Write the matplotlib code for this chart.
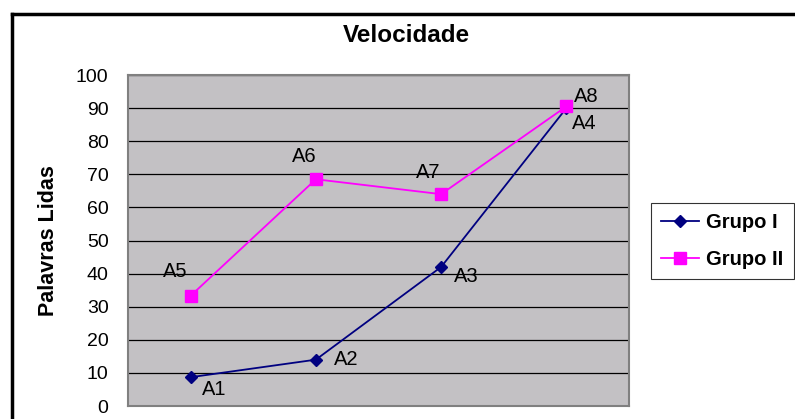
import matplotlib
matplotlib.use("Agg")
import matplotlib.pyplot as plt
from matplotlib.lines import Line2D
import numpy as np

categories = ["1", "2", "3", "4"]
grupo1 = [8.7, 14, 42, 90]
grupo2 = [33.3, 68.5, 64, 90.5]
labels1 = ["A1", "A2", "A3", "A4"]
labels2 = ["A5", "A6", "A7", "A8"]
yticks = [0, 10, 20, 30, 40, 50, 60, 70, 80, 90, 100]

W, H = 795, 419
fig = plt.figure(figsize=(W / 100, H / 100), dpi=100)
plt.rcParams['font.family'] = ['Liberation Sans', 'DejaVu Sans']

ax = fig.add_axes([128 / W, (H - 406) / H, 501 / W, 331 / H])
ax.set_facecolor('#C3C1C4')
x = np.arange(len(categories))
ax.set_xlim(-0.5, len(categories) - 0.5)
ax.set_ylim(0, 100)
ax.set_yticks(yticks)
ax.set_yticklabels([str(t) for t in yticks], fontsize=14)
ax.set_xticks([])
ax.tick_params(axis='y', length=0, pad=14)
for s in ax.spines.values():
    s.set_color('#808080')
    s.set_linewidth(1.5)
ax.grid(axis='y', color='black', linewidth=0.9)
ax.set_axisbelow(True)

ax.plot(x, grupo1, color='#000080', linewidth=1.3, marker='D', markersize=6, zorder=4)
ax.plot(x, grupo2, color='#FF00FF', linewidth=1.3, marker='s', markersize=8, zorder=4)

off1 = [(24, -12), (30, 0), (25, -10), (18, -15)]
off2 = [(-15, 24), (-12, 23), (-13, 22), (20, 10)]
for xi, yi, lab, o in zip(x, grupo1, labels1, off1):
    ax.annotate(lab, (xi, yi), xytext=o, textcoords='offset pixels', ha='center', va='center', fontsize=14.5)
for xi, yi, lab, o in zip(x, grupo2, labels2, off2):
    ax.annotate(lab, (xi, yi), xytext=o, textcoords='offset pixels', ha='center', va='center', fontsize=14.5)

ax.set_ylabel('Palavras Lidas', fontsize=15.5, fontweight='bold', labelpad=12)

fig.text(406 / W, 1 - 35 / H, 'Velocidade', ha='center', va='center', fontsize=17.5, fontweight='bold')

# chart border (top and left visible)
fig.add_artist(Line2D([12 / W, 1.0], [1 - 14 / H, 1 - 14 / H], color='black', linewidth=2.5, transform=fig.transFigure))
fig.add_artist(Line2D([12 / W, 12 / W], [1 - 14 / H, 0], color='black', linewidth=2.5, transform=fig.transFigure))

handles = [Line2D([], [], color='#000080', marker='D', markersize=6, linewidth=1.3),
           Line2D([], [], color='#FF00FF', marker='s', markersize=8, linewidth=1.3)]
leg = fig.legend(handles, ['Grupo I', 'Grupo II'], loc='upper left', bbox_to_anchor=(651 / W, 1 - 203 / H),
                 frameon=True, fancybox=False, edgecolor='black', prop={'size': 14.5, 'weight': 'bold'},
                 handlelength=1.9, borderpad=0.5, labelspacing=0.9, handletextpad=0.35, borderaxespad=0)
leg.get_frame().set_linewidth(0.8)

fig.savefig('out.png', dpi=100)
